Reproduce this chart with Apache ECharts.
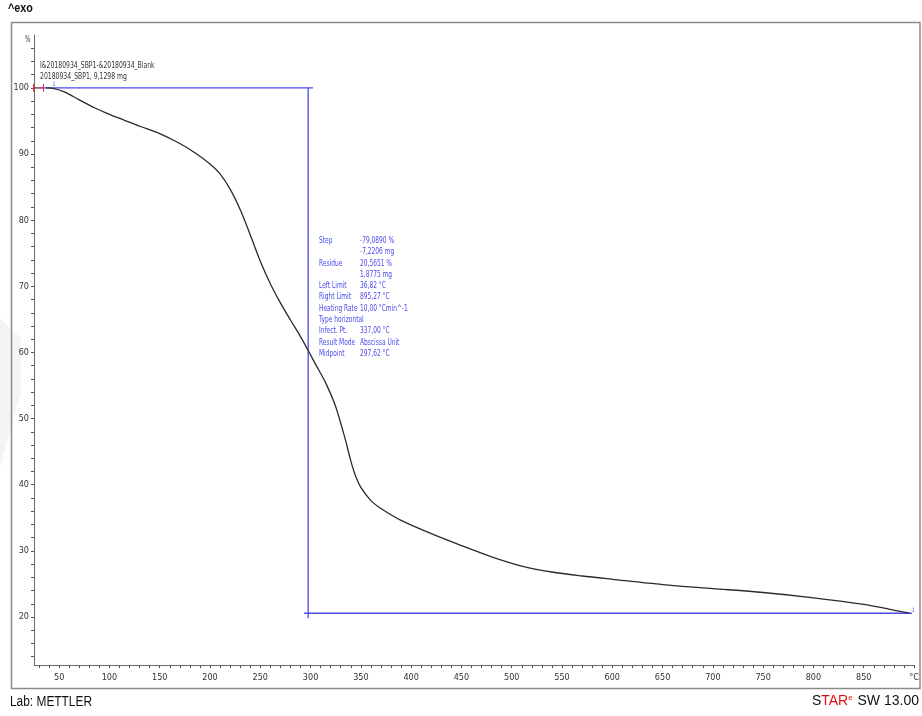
<!DOCTYPE html>
<html>
<head>
<meta charset="utf-8">
<script src="https://cdn.jsdelivr.net/npm/echarts@6/dist/echarts.min.js"></script>
<style>
  html, body { margin: 0; padding: 0; background: #fff; }
  #chart { width: 922px; height: 716px; }
</style>
</head>
<body>
<div id="chart"></div>
<script>
// TGA curve: sample mass (%) versus temperature (°C)
const temperature = [36.82, 45, 55, 70, 85, 100, 115, 130, 150, 170, 185, 200, 210, 220, 230, 240, 250, 260, 270, 280, 290, 297.62, 305, 315, 325, 335, 340, 345, 350, 360, 370, 390, 420, 450, 480, 510, 540, 570, 600, 650, 700, 750, 800, 850, 875, 895.27];
const massPercent = [100, 99.9, 99.4, 98.2, 97.0, 96.0, 95.1, 94.2, 93.1, 91.6, 90.2, 88.5, 87.0, 84.7, 81.6, 77.8, 73.8, 70.4, 67.5, 64.9, 62.4, 60.3, 58.2, 55.4, 51.8, 46.6, 43.6, 41.2, 39.6, 37.6, 36.4, 34.6, 32.6, 30.8, 29.1, 27.7, 26.8, 26.2, 25.7, 24.9, 24.3, 23.7, 22.9, 21.9, 21.2, 20.57];

// Step evaluation results
const leftLimit = 36.82;
const rightLimit = 895.27;
const midpoint = 297.62;
const startLevel = 100;
const residueLevel = 20.5651;

// Axis ticks
const xLabelValues = [50, 100, 150, 200, 250, 300, 350, 400, 450, 500, 550, 600, 650, 700, 750, 800, 850, 900];
const yLabelValues = [20, 30, 40, 50, 60, 70, 80, 90, 100];
const xMinorTicks = [];
for (let t = 30; t <= 900; t += 10) xMinorTicks.push(t);
const yMinorTicks = [];
for (let v = 14; v <= 106; v += 2) yMinorTicks.push(v);

const legendLines = ['I&20180934_SBP1-&20180934_Blank', '20180934_SBP1, 9,1298 mg'];
const resultNames = ['Step', '', 'Residue', '', 'Left Limit', 'Right Limit', 'Heating Rate', 'Type horizontal', 'Infect. Pt.', 'Result Mode', 'Midpoint'];
const resultValues = ['-79,0890 %', '-7,2206 mg', '20,5651 %', '1,8775 mg', '36,82 °C', '895,27 °C', '10,00 °Cmin^-1', '', '337,00 °C', 'Abscissa Unit', '297,62 °C'];

const narrow = "'DejaVu Sans Condensed', 'Liberation Sans', sans-serif";
const arial = "'Liberation Sans', Arial, sans-serif";
const blue = '#4a4aee';

// narrow text helper: horizontally squeezed plain text
function squeezed(x, y, text, font, fill, sx) {
  return { type: 'text', x: x, y: y, scaleX: sx, silent: true,
           style: { text: text, font: font, fill: fill, textVerticalAlign: 'middle' } };
}

const graphics = [
  { type: 'polygon', silent: true, z: -1,
    shape: { points: [[0, 318], [21, 338], [21, 392], [0, 468]] },
    style: { fill: 'rgba(0,0,0,0.045)' } },
  { type: 'rect', shape: { x: 11.5, y: 22.5, width: 908.5, height: 666 },
    style: { fill: 'none', stroke: '#8a8a8a', lineWidth: 1.5 }, silent: true, z: 0 },
  squeezed(8, 9, '^exo', 'bold 12px ' + arial, '#111', 0.9),
  squeezed(25, 40, '%', '8px ' + narrow, '#444', 0.8),
  squeezed(10, 702, 'Lab: METTLER', '14px ' + arial, '#111', 0.85),
  { type: 'text', right: 3, top: 694, style: {
      text: '{k|S}{r|TAR}{s|e}{k| SW 13.00}',
      rich: {
        k: { font: '14px ' + arial, fill: '#111' },
        r: { font: '14px ' + arial, fill: '#e01010' },
        s: { font: '8px ' + arial, fill: '#e01010', verticalAlign: 'top', padding: [0, 1, 6, 0] }
      } } }
];
legendLines.forEach((t, i) => {
  graphics.push(squeezed(40, 66 + i * 10.5, t, '8px ' + narrow, '#333', 0.85));
});
resultNames.forEach((t, i) => {
  const y = 241 + i * 11.27;
  if (t) graphics.push(squeezed(319, y, t, '8px ' + narrow, blue, 0.82));
  if (resultValues[i]) graphics.push(squeezed(360, y, resultValues[i], '8px ' + narrow, blue, 0.82));
});

const chart = echarts.init(document.getElementById('chart'), null, { renderer: 'canvas' });
chart.setOption({
  animation: false,
  backgroundColor: '#fff',
  grid: { left: 34, right: 8, top: 35, bottom: 51, containLabel: false },
  xAxis: {
    type: 'value', min: 25, max: 900,
    axisLine: { show: true, lineStyle: { color: '#6a6a6a', width: 1 } },
    axisTick: { show: true, customValues: xMinorTicks, length: 3, lineStyle: { color: '#555' } },
    axisLabel: {
      customValues: xLabelValues, margin: 8, color: '#333', fontSize: 9, fontFamily: narrow,
      formatter: v => (v === 900 ? '°C' : String(v))
    },
    splitLine: { show: false }
  },
  yAxis: {
    type: 'value', min: 12.74, max: 108,
    axisLine: { show: true, lineStyle: { color: '#6a6a6a', width: 1 } },
    axisTick: { show: true, customValues: yMinorTicks, length: 3, lineStyle: { color: '#555' } },
    axisLabel: { customValues: yLabelValues, margin: 5, color: '#333', fontSize: 9, fontFamily: narrow },
    splitLine: { show: false }
  },
  graphic: graphics,
  series: [
    {
      type: 'line', name: 'baseline start', silent: true, symbol: 'none',
      data: [[24, startLevel], [302.5, startLevel]],
      lineStyle: { color: blue, width: 1.3 }, z: 2
    },
    {
      type: 'line', name: 'midpoint', silent: true, symbol: 'none',
      data: [[midpoint, startLevel], [midpoint, 19.8]],
      lineStyle: { color: blue, width: 1.3 }, z: 2
    },
    {
      type: 'line', name: 'residue', silent: true, symbol: 'none',
      data: [[293.5, residueLevel], [898, residueLevel]],
      lineStyle: { color: blue, width: 1.3 }, z: 2
    },
    {
      type: 'line', name: 'limit bracket', silent: true, symbol: 'none',
      data: [[24.5, 100.6], [24.5, 99.4], '-', [24.5, startLevel], [34.5, startLevel], '-', [34.5, 100.6], [34.5, 99.4]],
      lineStyle: { color: '#e03030', width: 1 }, z: 3
    },
    {
      type: 'line', name: 'TGA', silent: true, symbol: 'none', smooth: 0.3,
      data: temperature.map((t, i) => [t, massPercent[i]]),
      lineStyle: { color: '#2a2a2a', width: 1.3 }, z: 4
    },
    {
      type: 'scatter', name: 'limits', silent: true, symbol: 'circle', symbolSize: 0,
      data: [[leftLimit + 8, startLevel], [rightLimit + 4, residueLevel]],
      label: { show: true, formatter: '1', position: 'top', distance: 0, color: blue, fontSize: 6, fontFamily: narrow },
      z: 5
    }
  ]
});
</script>
</body>
</html>
